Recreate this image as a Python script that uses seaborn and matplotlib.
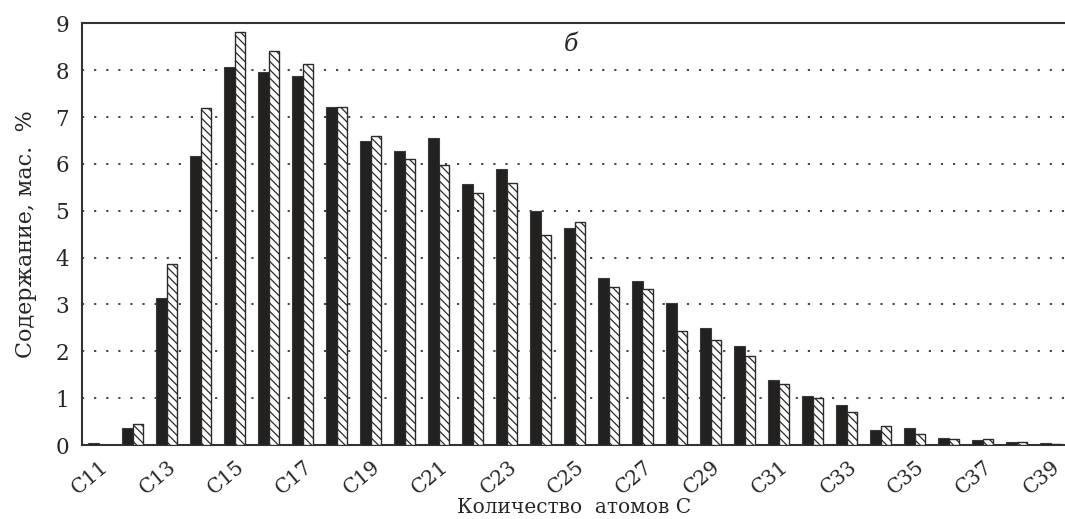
import numpy as np
import pandas as pd
import matplotlib
matplotlib.use("Agg")
import matplotlib.pyplot as plt
import matplotlib.transforms as mtransforms
import seaborn as sns

carbons = [f"C{n}" for n in range(11, 40)]
series_a = [0.04, 0.37, 3.14, 6.17, 8.06, 7.95, 7.87, 7.22, 6.48, 6.28,
            6.55, 5.57, 5.89, 4.99, 4.63, 3.57, 3.51, 3.04, 2.49, 2.12,
            1.39, 1.05, 0.86, 0.33, 0.36, 0.16, 0.10, 0.06, 0.04]
series_b = [0.00, 0.45, 3.86, 7.19, 8.82, 8.40, 8.13, 7.22, 6.59, 6.10,
            5.98, 5.37, 5.59, 4.48, 4.75, 3.37, 3.33, 2.44, 2.25, 1.89,
            1.31, 1.00, 0.71, 0.41, 0.23, 0.13, 0.12, 0.06, 0.03]
series_names = ["a", "b"]
y_ticks = list(range(0, 10))
x_label = "Количество  атомов С"
y_label = "Содержание, мас.  %"
panel = "б"

df = pd.DataFrame({
    "carbon": carbons * 2,
    "series": [series_names[0]] * len(carbons) + [series_names[1]] * len(carbons),
    "value": series_a + series_b,
})

sns.set_style("white")
plt.rcParams["font.family"] = ["DejaVu Serif"]
plt.rcParams["hatch.linewidth"] = 0.9

fig = plt.figure(figsize=(10.65, 5.19), dpi=100)
ax = fig.add_axes([81.5 / 1065, 74 / 519, 986 / 1065, 421.7 / 519])

sns.barplot(data=df, x="carbon", y="value", hue="series", order=carbons,
            hue_order=series_names, palette=["#231f20", "white"],
            width=0.6, gap=0, dodge=True, legend=False, ax=ax, zorder=3)

for p in ax.containers[0]:
    p.set_edgecolor("#3a3a3a")
    p.set_linewidth(0.8)
for p in ax.containers[1]:
    p.set_facecolor("white")
    p.set_edgecolor("#2a2a2a")
    p.set_linewidth(1.0)
    p.set_hatch("\\\\\\\\")

ax.set_ylim(0, 9)
ax.set_xlim(-0.5, len(carbons) - 0.5)
ax.set_yticks(y_ticks)
ax.set_yticklabels([str(t) for t in y_ticks], fontsize=15.5)

for t in y_ticks[1:-1]:
    ax.axhline(t, color="#333333", linestyle=(0, (1.2, 5.5)), linewidth=1.3, zorder=1)

major = list(range(0, len(carbons), 2))
ax.set_xticks(major)
ax.set_xticklabels([carbons[i] for i in major], rotation=40, ha="center", fontsize=14.5)
ax.set_xticks(np.arange(-0.5, len(carbons), 1.0), minor=True)
ax.tick_params(axis="x", which="major", length=0, pad=9)
ax.tick_params(axis="x", which="minor", length=6, width=1.3, color="#333333", direction="out")
ax.tick_params(axis="y", which="major", length=6, width=1.3, color="#333333", direction="out", pad=3)
offset = mtransforms.ScaledTranslation(-8 / 100, 0, fig.dpi_scale_trans)
for lab in ax.get_xticklabels():
    lab.set_transform(lab.get_transform() + offset)

for s in ["left", "bottom", "top"]:
    ax.spines[s].set_visible(True)
    ax.spines[s].set_color("#333333")
    ax.spines[s].set_linewidth(1.5)
ax.spines["right"].set_visible(False)

ax.set_xlabel(x_label, fontsize=14.5, labelpad=0)
ax.set_ylabel(y_label, fontsize=16, labelpad=13)
ax.text(13.9, 8.55, panel, fontsize=17, style="italic", ha="center", va="center")

fig.savefig("out.png", dpi=100)
